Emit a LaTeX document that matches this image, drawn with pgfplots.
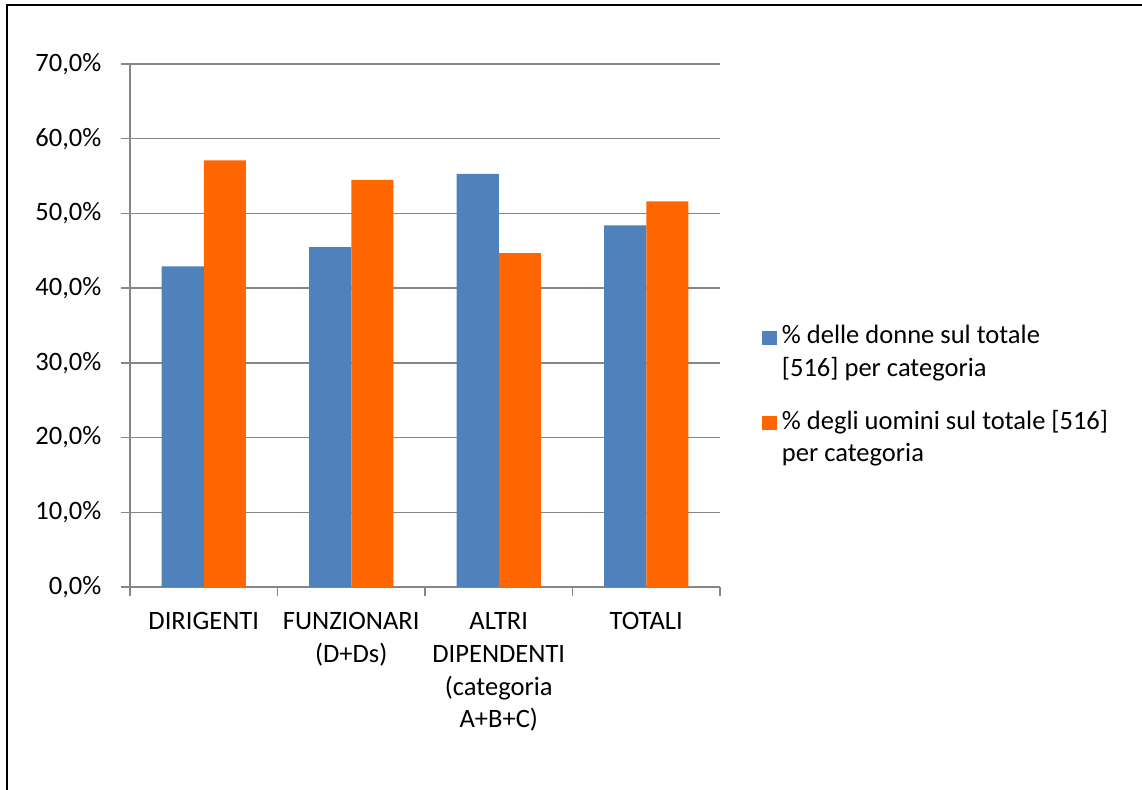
\documentclass[border=0pt]{standalone}
\usepackage{fontspec}
\setmainfont{Carlito}
\usepackage{pgfplots}
\usepackage{pgfplotstable}
\pgfplotsset{compat=1.18}

\definecolor{donne}{HTML}{4F81BD}
\definecolor{uomini}{HTML}{FF6600}
\definecolor{griglia}{HTML}{868686}

% quota percentuale di donne e uomini per categoria
\pgfplotstableread{
cat donne uomini
0   42.9  57.1
1   45.5  54.5
2   55.3  44.7
3   48.4  51.6
}\dati

\newcommand\testo{\fontsize{19.9}{24.5}\selectfont}

\begin{document}
\begin{tikzpicture}[x=0.75pt,y=0.75pt]
\path[use as bounding box] (0,0) rectangle (1142,789);
\draw[line width=1.1pt] (7,-2) -- (7,784) -- (1144,784);
\begin{axis}[
  at={(97.5pt,151.5pt)}, anchor=south west,
  scale only axis, width=442.5pt, height=392.25pt,
  xmin=-0.5, xmax=3.5, ymin=0, ymax=70,
  axis x line*=bottom, axis y line*=left,
  axis line style={griglia, line width=1pt, -},
  tick align=outside,
  major tick length=7pt,
  every tick/.style={griglia, line width=1pt},
  % separatori tra le categorie
  xtick={-0.5,0.5,1.5,2.5,3.5},
  xticklabels={},
  % nomi delle categorie al centro dei gruppi
  extra x ticks={0,1,2,3},
  extra x tick labels={DIRIGENTI, FUNZIONARI\\(D+Ds), ALTRI\\DIPENDENTI\\(categoria\\A+B+C), TOTALI},
  extra x tick style={major tick length=0pt},
  xticklabel style={font=\testo, align=center, anchor=north, text=black, yshift=-15.75pt},
  ytick={0,10,...,70},
  yticklabel={\pgfmathprintnumber[fixed,fixed zerofill,precision=1,use comma]{\tick}\%},
  yticklabel style={font=\testo, text=black, xshift=-11pt},
  /pgf/number format/assume math mode=true,
  ymajorgrids,
  major grid style={griglia, line width=1pt},
  ybar, bar width=0.2857,
  legend style={at={(1.0712,0.5094)}, anchor=north west, draw=none, fill=none,
    inner sep=0pt, font=\testo, row sep=45.4pt, column sep=3.5pt,
    cells={anchor=base west}, nodes={inner sep=0pt}},
  legend image code/.code={\fill[#1] (0pt,-1pt) rectangle (11.25pt,9.5pt);},
]
\addplot[fill=donne, draw=none, bar shift=-0.14285] table[x=cat, y=donne] {\dati};
\addlegendentry{\begin{tabular}[t]{@{}l@{}}\% delle donne sul totale\\{}[516] per categoria\end{tabular}}
\addplot[fill=uomini, draw=none, bar shift=0.14285] table[x=cat, y=uomini] {\dati};
\addlegendentry{\begin{tabular}[t]{@{}l@{}}\% degli uomini sul totale [516]\\per categoria\end{tabular}}
\end{axis}
\end{tikzpicture}
\end{document}
